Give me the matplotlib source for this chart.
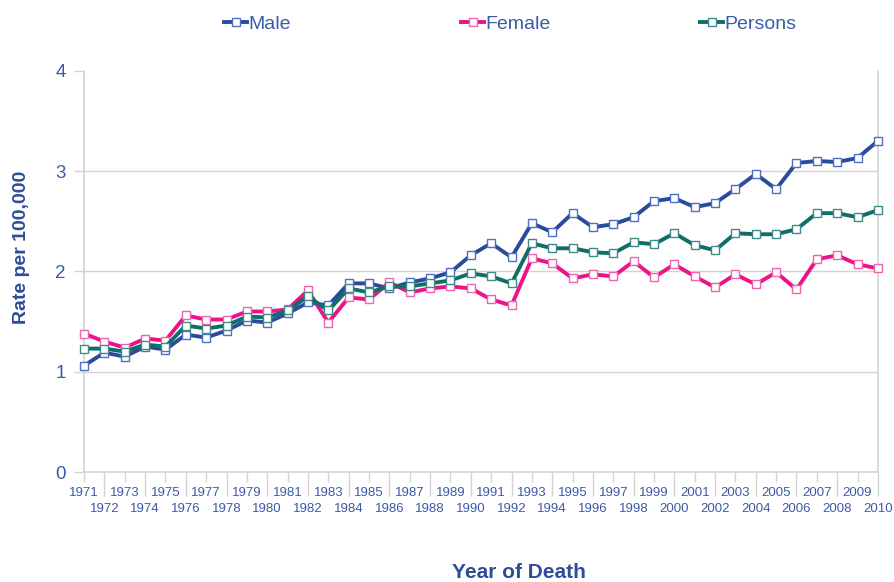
import matplotlib.pyplot as plt
from matplotlib.ticker import FixedLocator, FixedFormatter

plt.rcParams['font.family'] = ['Liberation Sans', 'DejaVu Sans']

# --- data ---
years = list(range(1971, 2011))

male = [1.06, 1.19, 1.15, 1.25, 1.22, 1.37, 1.34, 1.41, 1.51, 1.49,
        1.58, 1.69, 1.66, 1.88, 1.88, 1.83, 1.89, 1.93, 1.99, 2.16,
        2.28, 2.14, 2.48, 2.39, 2.58, 2.44, 2.47, 2.54, 2.70, 2.73,
        2.64, 2.68, 2.82, 2.97, 2.82, 3.08, 3.10, 3.09, 3.13, 3.30]

female = [1.38, 1.30, 1.24, 1.33, 1.31, 1.56, 1.52, 1.52, 1.60, 1.60,
          1.62, 1.81, 1.49, 1.74, 1.72, 1.89, 1.79, 1.83, 1.85, 1.83,
          1.72, 1.66, 2.13, 2.08, 1.93, 1.97, 1.95, 2.10, 1.94, 2.07,
          1.95, 1.84, 1.97, 1.87, 1.99, 1.82, 2.12, 2.16, 2.07, 2.03]

persons = [1.23, 1.23, 1.20, 1.27, 1.25, 1.46, 1.43, 1.46, 1.55, 1.54,
           1.61, 1.75, 1.61, 1.83, 1.79, 1.85, 1.85, 1.88, 1.91, 1.98,
           1.95, 1.88, 2.28, 2.23, 2.23, 2.19, 2.18, 2.29, 2.27, 2.38,
           2.26, 2.21, 2.38, 2.37, 2.37, 2.42, 2.58, 2.58, 2.54, 2.61]

series = [("Male", male, "#2A4A9B", "#4E6FC4"),
          ("Female", female, "#EC128A", "#F063AE"),
          ("Persons", persons, "#0F6E6A", "#3E8C88")]

text_col = "#3B5BA8"
title_col = "#2E4C9A"
grid_col = "#D3D3D3"

fig = plt.figure(figsize=(8.95, 5.82), dpi=100)
ax = fig.add_axes([0.0939, 0.189, 0.887, 0.6895])

handles = []
for name, vals, col, mcol in series:
    ln, = ax.plot(years, vals, color=col, lw=2.8, marker='s', ms=5.8,
                  mfc='white', mec=mcol, mew=1.0, label=name, clip_on=False, zorder=3)
    handles.append(ln)

ax.set_xlim(1971, 2010)
ax.set_ylim(0, 4)

# y axis
ax.set_yticks([0, 1, 2, 3, 4])
ax.tick_params(axis='y', length=7, width=1, color=grid_col, labelsize=13.5,
               labelcolor=text_col, pad=6)
for v in [1, 2, 3]:
    ax.axhline(v, color=grid_col, lw=1, zorder=1)

# x axis: odd years on first row, even years below
odd = [y for y in years if y % 2 == 1]
even = [y for y in years if y % 2 == 0]
ax.xaxis.set_minor_locator(FixedLocator(odd))
ax.xaxis.set_minor_formatter(FixedFormatter([str(y) for y in odd]))
ax.xaxis.set_major_locator(FixedLocator(even))
ax.xaxis.set_major_formatter(FixedFormatter([str(y) for y in even]))
ax.tick_params(axis='x', which='minor', length=7, width=1, color=grid_col,
               labelsize=9.5, labelcolor=text_col, pad=4)
ax.tick_params(axis='x', which='major', length=17, width=1, color=grid_col,
               labelsize=9.5, labelcolor=text_col, pad=5)

for s in ['left', 'bottom', 'right']:
    ax.spines[s].set_color(grid_col)
    ax.spines[s].set_linewidth(1.2)
ax.spines['top'].set_visible(False)

ax.set_ylabel("Rate per 100,000", fontsize=14, fontweight='bold', color=title_col)
ax.yaxis.set_label_coords(-0.068, 0.56)
fig.text(0.58, 0.017, "Year of Death", fontsize=15, fontweight='bold',
         color=title_col, ha='center', va='center')

# legend: three evenly spaced entries across the top
legend_x = [224, 461, 700]
for h, px in zip(handles, legend_x):
    fig.legend(handles=[h], loc='center left', bbox_to_anchor=(px / 895, 0.958),
               frameon=False, fontsize=14, handlelength=1.2, handletextpad=0.05,
               borderpad=0, borderaxespad=0, labelcolor=text_col)

plt.savefig("out.png", dpi=100)
